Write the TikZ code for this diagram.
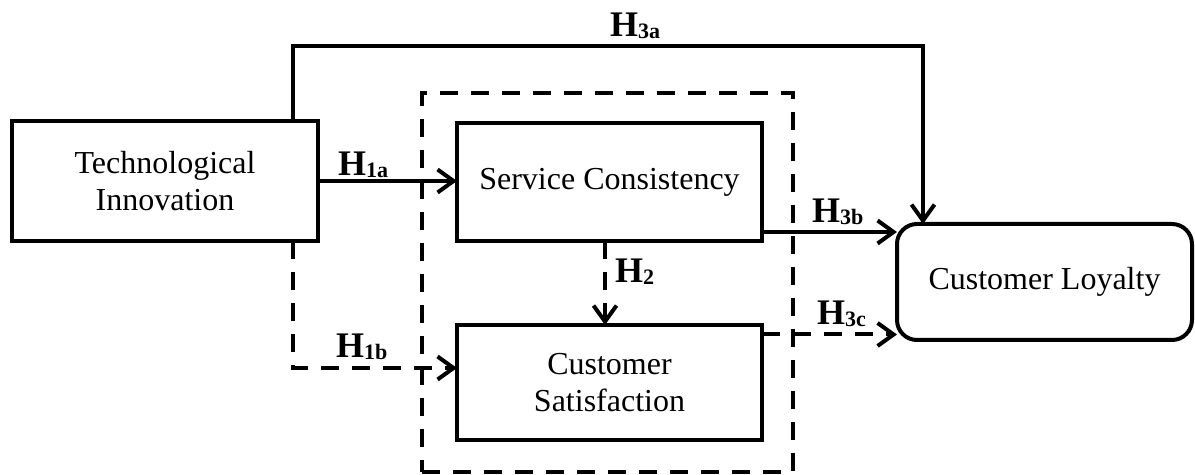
\documentclass[tikz,border=0pt]{standalone}
\usepackage{fontspec}
\setmainfont{Liberation Serif}
\usetikzlibrary{arrows.meta}
\newcommand{\hyp}[1]{\textbf{H\raisebox{-0.6pt}{\fontsize{11}{11}\selectfont #1}}}

\begin{document}
\begin{tikzpicture}[x=0.5pt,y=-0.5pt,line width=2pt,
    >={Straight Barb[length=8pt,width=11.5pt]},
    box/.style={draw,inner sep=0pt,outer sep=0pt,align=center,font=\fontsize{16}{18.5}\selectfont},
    dashline/.style={dash pattern=on 9pt off 6.5pt},
    lab/.style={anchor=base west,inner sep=0pt,font=\fontsize{18}{18}\selectfont}]
    \useasboundingbox (0,0) rectangle (1195,475);
    \node [draw,dashline,inner sep=0pt,minimum width=185.5pt,minimum height=189.5pt] (frame) at (607.5,282.5) {};
    \node [box,minimum width=153pt,minimum height=60pt] (ti) at (165,181) {Technological\\Innovation};
    \node [box,minimum width=152.5pt,minimum height=59pt] (sc) at (609.5,182) {Service Consistency};
    \node [box,minimum width=152.5pt,minimum height=57.5pt] (cs) at (609.5,382.5) {Customer\\Satisfaction};
    \node [box,rounded corners=10pt,minimum width=147.5pt,minimum height=58pt] (cl) at (1044.5,282) {Customer Loyalty};

    \draw [->] ([xshift=64pt]ti.north) -- ++(0,-75) -| ([xshift=-60.75pt]cl.north);
    \draw [->] (ti.east) -- (ti.east -| sc.west);
    \draw [->,dashline] ([xshift=64pt]ti.south) |- ([yshift=7.25pt]cs.west);
    \draw [->,dashline] ([xshift=-2.25pt]sc.south) -- ([xshift=-2.25pt]cs.north);
    \draw [->] ([yshift=-25pt]sc.east) -- ([yshift=-25pt]sc.east -| cl.west);
    \draw [->,dashline] ([yshift=24pt]cs.east) -- ([yshift=24pt]cs.east -| cl.west);

    \node [lab] (h3a) at (608,37) {\hyp{3a}};
    \node [lab] (h1a) at (336,176) {\hyp{1a}};
    \node [lab] (h1b) at (334,358) {\hyp{1b}};
    \node [lab] (h2) at (613,283) {\hyp{2}};
    \node [lab] (h3b) at (810,223) {\hyp{3b}};
    \node [lab] (h3c) at (815,325) {\hyp{3c}};
\end{tikzpicture}
\end{document}
